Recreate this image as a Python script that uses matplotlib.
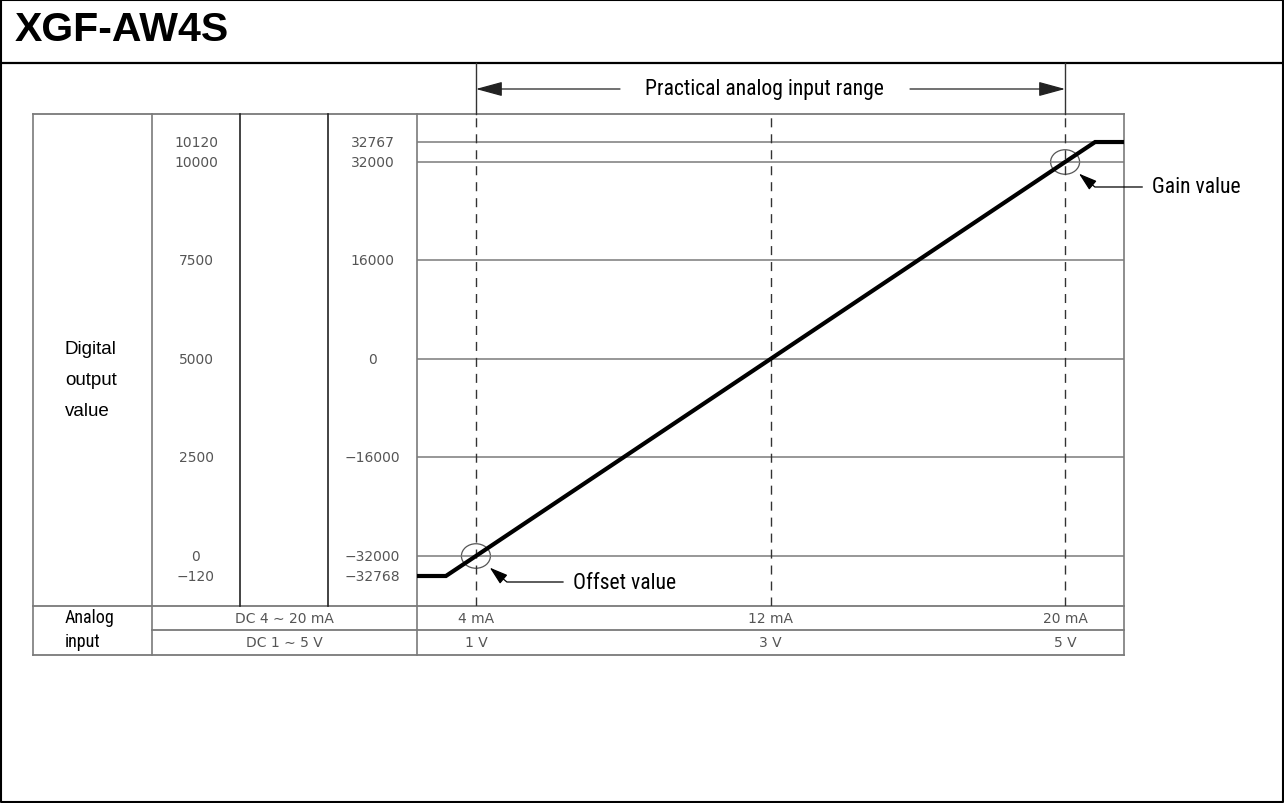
import numpy as np
import matplotlib
matplotlib.use("Agg")
import matplotlib.pyplot as plt
import matplotlib.transforms as mtransforms
from matplotlib import font_manager as fm
from matplotlib.patches import Ellipse

# scale labels of the two left columns, one row per level
unsigned_labels = ['10120', '10000', '7500', '5000', '2500', '0', '\u2212120']
signed_values = [32767, 32000, 16000, 0, -16000, -32000, -32768]
grid_values = [32767, 32000, 16000, 0, -16000, -32000]

# analog input columns
input_ma = [4, 12, 20]
ma_labels = ['4 mA', '12 mA', '20 mA']
volt_labels = ['1 V', '3 V', '5 V']
range_ma = ['DC 4 \u223c 20 mA', 'DC 1 \u223c 5 V']

# conversion characteristic (mA -> digital), clamped at both ends
curve_ma = [2.4, 3.185, 4, 20, 20.815, 21.6]
curve_val = [-32768, -32768, -32000, 32000, 32767, 32767]

offset_pt = (4, -32000)
gain_pt = (20, 32000)

W, H = 1284, 804
GRAY = '#7a7a7a'
DARK = '#222222'
NUM = '#555555'


def narrow_font():
    # look for a condensed sans face, else plain Liberation Sans
    prefs = ['Liberation Sans Narrow', 'Roboto Condensed', 'Noto Sans', 'Open Sans',
             'DejaVu Sans', 'Roboto', 'Liberation Sans']
    found = []
    for f in fm.fontManager.ttflist:
        cond = 'condensed' in str(f.stretch) or 'Narrow' in f.name or 'Condensed' in f.name \
            or 'ondensed' in f.fname or 'Narrow' in f.fname
        if not cond or f.style != 'normal' or f.weight not in (400, 'normal', 'regular'):
            continue
        if 'Semi' in f.fname or 'Extra' in f.fname:
            continue
        for i, p in enumerate(prefs):
            if f.name.startswith(p):
                found.append((i, f.fname))
                break
    if found:
        return fm.FontProperties(fname=sorted(found)[0][1])
    return fm.FontProperties(family='Liberation Sans')


NARROW = narrow_font()

# the diagram stretches the part beyond +/-32000 so the clamp is visible
K = 4.23
def fwd(v):
    v = np.asarray(v, dtype=float)
    a = np.abs(v)
    return np.where(a <= 32000, v, np.sign(v) * (32000 + (a - 32000) * K))

def inv(u):
    u = np.asarray(u, dtype=float)
    a = np.abs(u)
    return np.where(a <= 32000, u, np.sign(u) * (32000 + (a - 32000) / K))

fig = plt.figure(figsize=(W / 100, H / 100), dpi=100)
renderer = fig.canvas.get_renderer()
base = fig.add_axes([0, 0, 1, 1])
base.set_xlim(0, W)
base.set_ylim(H, 0)
base.axis('off')

def fit(t, width):
    w = t.get_window_extent(renderer).width
    t.set_fontsize(t.get_fontsize() * width / w)
    return t.get_fontsize()

# table geometry (pixels)
TL, C1, C2, C3, CL, CR = 33, 152, 240, 328, 417, 1124
TOP, MID, ROW2, BOT = 115, 607, 631, 656

ax = fig.add_axes([CL / W, 1 - MID / H, (CR - CL) / W, (MID - TOP) / H])
ax.set_xlim(2.4, 21.6)
ax.set_yscale('function', functions=(fwd, inv))
ax.set_ylim(-33920, 33843)
ax.axis('off')

# frame + title
base.plot([1, W - 1, W - 1, 1, 1], [1, 1, H - 1, H - 1, 1], color='black', lw=1.5)
base.plot([0, W], [63.5, 63.5], color='black', lw=1.6)
base.text(15, 30, 'XGF-AW4S', fontsize=29.5, weight='bold',
          family=['Liberation Sans', 'DejaVu Sans'], va='center', ha='left')

# table lines
for y, x0 in [(TOP, TL), (MID, TL), (ROW2, C1), (BOT, TL)]:
    base.plot([x0, CR], [y, y], color=GRAY, lw=1.3)
for x, y1, c in [(TL, BOT, GRAY), (C1, BOT, GRAY), (C2, MID, DARK),
                 (C3, MID, DARK), (CL, BOT, GRAY), (CR, BOT, GRAY)]:
    base.plot([x, x], [TOP, y1], color=c, lw=1.2)

# chart grid and input markers
for v in grid_values:
    ax.axhline(v, color=GRAY, lw=1.1)
for m in input_ma:
    ax.axvline(m, color='#333333', lw=1.0, dashes=(6.5, 5))
ax.plot(curve_ma, curve_val, color='black', lw=3, solid_joinstyle='miter',
        solid_capstyle='butt', clip_on=False)

def ring(pt):
    tr = fig.dpi_scale_trans + mtransforms.ScaledTranslation(pt[0], pt[1], ax.transData)
    ax.add_patch(Ellipse((0, 0), 0.29, 0.245, transform=tr, fill=False,
                         ec=NUM, lw=0.9, clip_on=False))

ring(offset_pt)
ring(gain_pt)

# practical range arrows above the chart
xm_ypx = mtransforms.blended_transform_factory(ax.transData, base.transData)
xpx_yv = mtransforms.blended_transform_factory(base.transData, ax.transData)
for m in (input_ma[0], input_ma[-1]):
    base.plot([m, m], [64, TOP], color='#333333', lw=1.0, transform=xm_ypx)
top_arrow = dict(arrowstyle='-|>,head_length=1.1,head_width=0.3', color=DARK,
                 lw=0.9, shrinkA=0, shrinkB=0, mutation_scale=15)
base.annotate('', xy=(input_ma[0], 90), xycoords=xm_ypx, xytext=(620, 90),
              textcoords=base.transData, arrowprops=top_arrow)
base.annotate('', xy=(input_ma[-1], 90), xycoords=xm_ypx, xytext=(910, 90),
              textcoords=base.transData, arrowprops=top_arrow)
rng = base.text(764, 89, 'Practical analog input range', fontproperties=NARROW,
                fontsize=16, ha='center', va='center')
label_size = fit(rng, 240)

arrow = dict(arrowstyle='-|>,head_length=0.7,head_width=0.22',
             connectionstyle='angle,angleA=0,angleB=-40,rad=0',
             color='black', lw=0.9, shrinkA=5, shrinkB=13,
             relpos=(0, 0.5), mutation_scale=16)
ax.annotate('Offset value', xy=offset_pt, xytext=(97, -26), textcoords='offset pixels',
            ha='left', va='center', fontproperties=NARROW, fontsize=label_size,
            arrowprops=arrow)
ax.annotate('Gain value', xy=gain_pt, xytext=(87, -25), textcoords='offset pixels',
            ha='left', va='center', fontproperties=NARROW, fontsize=label_size,
            arrowprops=arrow)

# left column labels
for lab, y in zip(['Digital', 'output', 'value'], [350, 381, 412]):
    base.text(65, y, lab, fontsize=13.5, family=['Liberation Sans', 'DejaVu Sans'],
              ha='left', va='center')
t1 = base.text(65, 618, 'Analog', fontproperties=NARROW, fontsize=14, ha='left', va='center')
small = fit(t1, 50)
base.text(65, 642, 'input', fontproperties=NARROW, fontsize=small, ha='left', va='center')

for lab, v in zip(unsigned_labels, signed_values):
    base.text((C1 + C2) / 2, v, lab, transform=xpx_yv, fontsize=10, color=NUM,
              ha='center', va='center')
    base.text((C3 + CL) / 2, v, str(v).replace('-', '\u2212'), transform=xpx_yv,
              fontsize=10, color=NUM, ha='center', va='center')

# analog input rows
for lab, y in zip(range_ma, [619, 643]):
    base.text((C1 + CL) / 2, y, lab, fontsize=10, color=NUM, ha='center', va='center')
for m, a, v in zip(input_ma, ma_labels, volt_labels):
    base.text(m, 619, a, transform=xm_ypx, fontsize=10, color=NUM, ha='center', va='center')
    base.text(m, 643, v, transform=xm_ypx, fontsize=10, color=NUM, ha='center', va='center')

fig.savefig('out.png', dpi=100)
